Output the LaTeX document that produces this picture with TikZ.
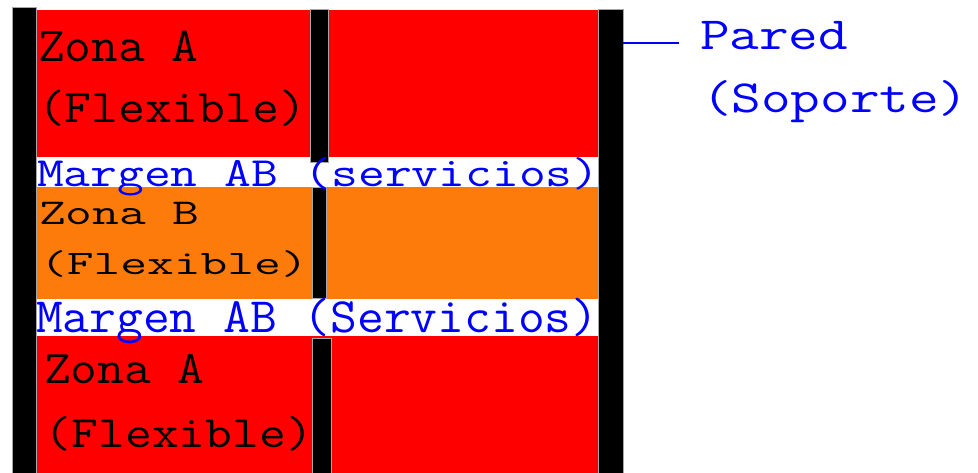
\documentclass[tikz,border=0pt]{standalone}
\definecolor{zonared}{RGB}{255,0,0}
\definecolor{zoneorange}{RGB}{252,123,10}
\definecolor{labelblue}{RGB}{0,0,255}
\newcommand{\vstretch}[2]{\scalebox{1}[#1]{#2}}
\begin{document}
\begin{tikzpicture}[x=1pt,y=-1pt,
  wall/.style={fill=black,draw=gray!70,line width=0.4pt},
  zonetext/.style={anchor=base west,inner sep=0pt,outer sep=0pt,text=black,
    font=\ttfamily\fontsize{52}{52}\selectfont},
  margintext/.style={zonetext,text=labelblue},
  walltext/.style={anchor=base west,inner sep=0pt,outer sep=0pt,text=labelblue,
    font=\ttfamily\fontsize{57.5}{57.5}\selectfont}]
\useasboundingbox (0,0) rectangle (978,473);
% zones
\fill[zonared] (36,10) rectangle (598,157);
\fill[zoneorange] (36,187) rectangle (598,299);
\fill[zonared] (36,336) rectangle (598,473);
% walls
\draw[wall] (12,7) rectangle (36,474);
\draw[wall] (598,9) rectangle (623,474);
\draw[wall] (310,9) rectangle (328,162);
\draw[wall] (312,187) rectangle (326,298);
\draw[wall] (312,338) rectangle (331,474);
% zone labels
\node[zonetext] (za1) at (38,62) {\vstretch{0.94}{Zona A}};
\node[zonetext] (fa1) at (38,123) {\vstretch{0.9}{(Flexible)}};
\node[margintext] (m1) at (37,187) {\vstretch{0.8}{Margen AB (servicios)}};
\node[zonetext] (zb) at (39,225) {\vstretch{0.7}{Zona B}};
\node[zonetext] (fb) at (40,275) {\vstretch{0.66}{(Flexible)}};
\node[margintext] (m2) at (36,333) {\vstretch{0.95}{Margen AB (Servicios)}};
\node[zonetext] (za2) at (44,383) {\vstretch{0.9}{Zona A}};
\node[zonetext] (fa2) at (45,447) {\vstretch{0.86}{(Flexible)}};
% wall label
\coordinate (wallpt) at (623,43);
\node[walltext] (pared) at (700,50) {\vstretch{0.8}{Pared}};
\node[walltext] (soporte) at (702,113) {\vstretch{0.8}{(Soporte)}};
\draw[labelblue,line width=1.2pt] (wallpt) -- ++(56,0);
\end{tikzpicture}
\end{document}
